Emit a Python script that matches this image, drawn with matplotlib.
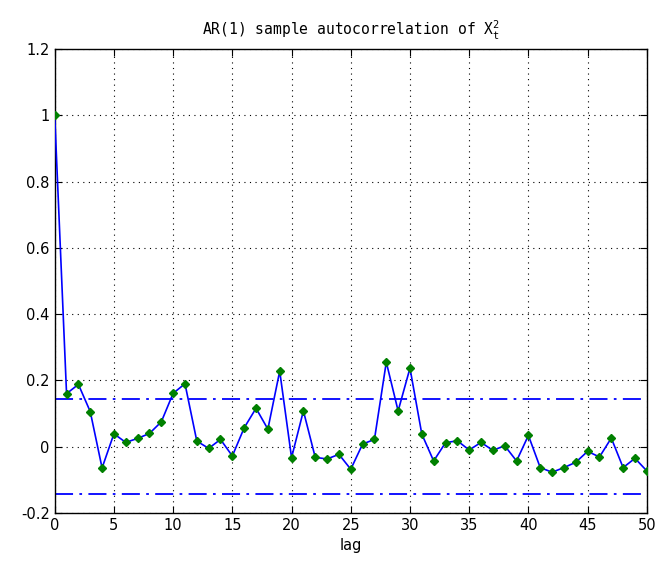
import numpy as np
import matplotlib
matplotlib.use("Agg")
import matplotlib.pyplot as plt

plt.rcParams["mathtext.fontset"] = "dejavusans"

# sample autocorrelation of the squared AR(1) series, lags 0..50
lags = np.arange(0, 51)
acf = [1.000, 0.160, 0.188, 0.106, -0.064, 0.039, 0.013, 0.025, 0.040, 0.075,
       0.161, 0.190, 0.017, -0.005, 0.022, -0.028, 0.057, 0.116, 0.053, 0.228,
       -0.033, 0.108, -0.032, -0.037, -0.023, -0.068, 0.008, 0.022, 0.255, 0.108,
       0.237, 0.038, -0.043, 0.012, 0.018, -0.010, 0.013, -0.011, 0.003, -0.043,
       0.034, -0.063, -0.077, -0.063, -0.047, -0.014, -0.031, 0.026, -0.063, -0.035,
       -0.073]
bound = 0.144  # approx. 95% confidence band

fig = plt.figure(figsize=(6.56, 5.69), dpi=100)
ax = fig.add_axes([0.0834, 0.0984, 0.9026, 0.8156])

ax.plot(lags, acf, color=(0, 0, 1), linewidth=1.2, zorder=3)
ax.plot(lags, acf, linestyle="none", marker="D", markersize=3.8,
        color=(0, 0.5, 0), markeredgecolor=(0, 0.5, 0), zorder=4)
dashdot = (0, (10, 3.5, 1.5, 3.5))
ax.axhline(bound, color=(0, 0, 1), linestyle=dashdot, linewidth=1.3, zorder=2)
ax.axhline(-bound, color=(0, 0, 1), linestyle=dashdot, linewidth=1.3, zorder=2)

ax.set_xlim(0, 50)
ax.set_ylim(-0.2, 1.2)
ax.set_xticks(np.arange(0, 51, 5))
yt = np.round(np.arange(-0.2, 1.21, 0.2), 1)
ax.set_yticks(yt)
ax.set_yticklabels(["0" if v == 0 else ("1" if v == 1 else f"{v:g}") for v in yt])
ax.grid(True, color="black", linestyle=(0, (1, 4)), linewidth=0.8)
ax.tick_params(direction="in", top=True, right=True, labelsize=10.5, length=5)
for s in ax.spines.values():
    s.set_linewidth(1.0)

ax.set_xlabel("lag", fontsize=10.5)
ax.set_title(r"AR(1) sample autocorrelation of $\mathtt{X}_\mathtt{t}^\mathtt{2}$",
             fontsize=10.5, family="DejaVu Sans Mono", pad=10)

fig.savefig("out.png", dpi=100)
